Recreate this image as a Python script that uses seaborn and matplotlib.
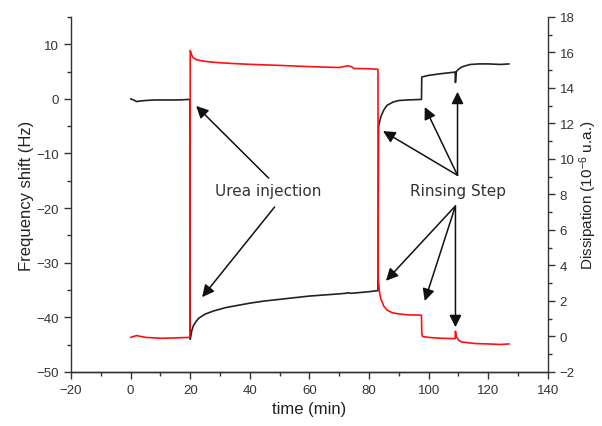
import matplotlib
matplotlib.use("Agg")
import matplotlib.pyplot as plt
from matplotlib.ticker import MultipleLocator
import seaborn as sns
import pandas as pd

# frequency shift trace (left axis)
t_freq = [0, 1, 2, 3, 5, 8, 12, 16, 19.9,
          20.0, 20.5, 21, 22, 23, 25, 28, 32, 36, 40, 45, 50, 55, 60, 65, 70, 72, 73, 74, 76, 80, 83.0,
          83.2, 84, 85, 86, 88, 90, 93, 97.6,
          97.7, 100, 104, 108.9, 109.0, 109.3, 110, 111, 112, 114, 117, 120, 124, 127]
freq = [0, -0.2, -0.5, -0.4, -0.3, -0.2, -0.2, -0.2, -0.1,
        -44, -42.5, -41.6, -40.7, -40.1, -39.4, -38.8, -38.2, -37.8, -37.4, -37.0, -36.7, -36.4, -36.1, -35.9, -35.7, -35.6, -35.5, -35.6, -35.5, -35.3, -35.1,
        -5.0, -3.2, -2.0, -1.2, -0.6, -0.3, -0.2, -0.1,
        4.0, 4.3, 4.6, 4.9, 3.0, 5.0, 5.4, 5.8, 6.0, 6.3, 6.4, 6.4, 6.3, 6.4]

# dissipation trace (right axis)
t_diss = [0, 2, 5, 10, 15, 19.9,
          20.0, 20.5, 21, 22, 24, 27, 30, 35, 40, 50, 60, 70, 73, 74, 75, 80, 83.0,
          83.1, 83.5, 84, 85, 86, 87, 88, 90, 93, 97.6,
          97.7, 98, 100, 104, 108.9, 109.0, 109.3, 110, 111, 113, 116, 120, 124, 127]
diss = [-0.05, 0.05, -0.05, -0.1, -0.08, -0.05,
        16.1, 15.85, 15.7, 15.6, 15.52, 15.46, 15.42, 15.37, 15.33, 15.27, 15.2, 15.15, 15.25, 15.2, 15.1, 15.08, 15.05,
        3.3, 2.5, 2.1, 1.7, 1.5, 1.4, 1.33, 1.27, 1.22, 1.2,
        0.15, 0.0, -0.05, -0.1, -0.12, 0.3, 0.0, -0.2, -0.3, -0.35, -0.4, -0.42, -0.45, -0.42]

df_f = pd.DataFrame({"time": t_freq, "freq": freq})
df_d = pd.DataFrame({"time": t_diss, "diss": diss})

sns.set_style("ticks")
plt.rcParams["font.family"] = ["Liberation Sans", "DejaVu Sans"]
plt.rcParams["mathtext.fontset"] = "custom"
plt.rcParams["mathtext.rm"] = "Liberation Sans"
plt.rcParams["mathtext.default"] = "regular"
plt.rcParams["xtick.direction"] = "out"
plt.rcParams["ytick.direction"] = "out"

fig = plt.figure(figsize=(6.02, 4.27), dpi=100)
ax = fig.add_axes([0.118, 0.1265, 0.792, 0.8315])
ax2 = ax.twinx()

sns.lineplot(data=df_f, x="time", y="freq", ax=ax, color="#222222", lw=1.2,
             estimator=None, sort=False)
sns.lineplot(data=df_d, x="time", y="diss", ax=ax2, color="#ff1010", lw=1.2,
             estimator=None, sort=False)

ax.set_xlim(-20, 140)
ax.set_ylim(-50, 15)
ax2.set_ylim(-2, 18)

ax.xaxis.set_major_locator(MultipleLocator(20))
ax.xaxis.set_minor_locator(MultipleLocator(10))
ax.yaxis.set_major_locator(MultipleLocator(10))
ax.yaxis.set_minor_locator(MultipleLocator(5))
ax2.yaxis.set_major_locator(MultipleLocator(2))
ax2.yaxis.set_minor_locator(MultipleLocator(1))

for a in (ax, ax2):
    a.tick_params(which="major", length=5, width=1, color="#333333",
                  labelsize=9.5, labelcolor="#333333")
    a.tick_params(which="minor", length=3, width=1, color="#333333")
    a.spines["top"].set_visible(False)
    for s in a.spines.values():
        s.set_color("#333333")
        s.set_linewidth(1)
ax.spines["right"].set_visible(False)
ax2.spines["left"].set_visible(False)

ax.set_xlabel("time (min)", fontsize=12, color="#222222", labelpad=4)
ax.set_ylabel("Frequency shift (Hz)", fontsize=12, color="#222222", labelpad=2)
ax2.set_ylabel("Dissipation (10$^{-6}$ u.a.)", fontsize=11, color="#222222", labelpad=2)

# annotations
ax.text(46, -16.8, "Urea injection", fontsize=11, family="DejaVu Sans",
        color="#333333", ha="center", va="center")
ax.text(109.7, -16.8, "Rinsing Step", fontsize=11, family="DejaVu Sans",
        color="#333333", ha="center", va="center")

arrow = dict(arrowstyle="-|>", color="#111111", lw=1.1, mutation_scale=18,
             shrinkA=0, shrinkB=0)
urea_tail = [(46.3, -14.5), (48.3, -19.8)]
urea_tips = [(22, -1.3), (24, -36.3)]
for tail, tip in zip(urea_tail, urea_tips):
    ax.annotate("", xy=tip, xytext=tail, arrowprops=arrow)

rinse_up_tips = [(84.7, -5.9), (98.7, -1.5), (109.7, 1.3)]
for tip in rinse_up_tips:
    ax.annotate("", xy=tip, xytext=(109.7, -14.0), arrowprops=arrow)
rinse_down_tips = [(85.7, -33.3), (98.7, -37.0), (109.0, -41.8)]
for tip in rinse_down_tips:
    ax.annotate("", xy=tip, xytext=(109.0, -19.6), arrowprops=arrow)

fig.savefig("out.png", dpi=100)
